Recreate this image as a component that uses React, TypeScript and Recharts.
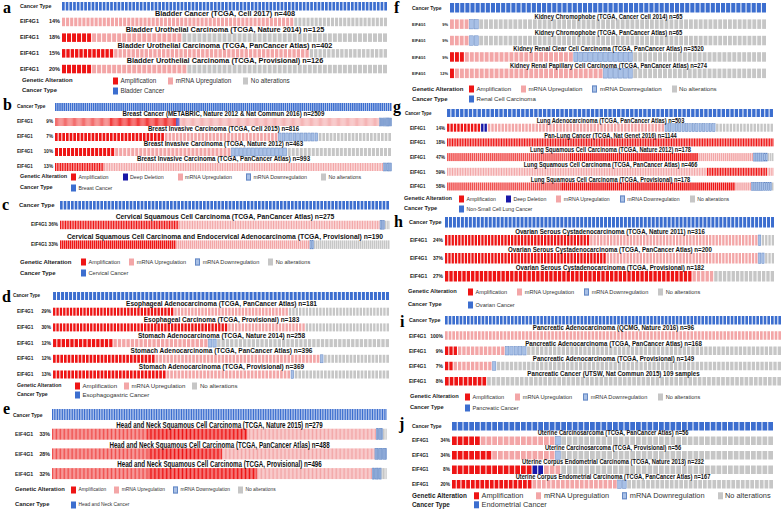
import React from 'react';
import { BarChart, Bar, XAxis, YAxis } from 'recharts';

// Oncoprint-like panels: every row is a stack of [alteration kind, number of sample columns]
type Seg = [string, number];

const A_TITLES = [
  'Bladder Cancer (TCGA, Cell 2017) n=408',
  'Bladder Urothelial Carcinoma (TCGA, Nature 2014) n=125',
  'Bladder Urothelial Carcinoma (TCGA, PanCancer Atlas) n=402',
  'Bladder Urothelial Carcinoma (TCGA, Provisional) n=126',
];
const A_PCTS = ['14%', '18%', '15%', '20%'];
const A_ROWS: Seg[][] = [
  [['up', 57], ['none', 23]],
  [['amp', 6], ['up', 18], ['none', 41]],
  [['amp', 12], ['up', 45], ['none', 18]],
  [['amp', 6], ['up', 19], ['none', 40]],
];

const B_TITLES = [
  'Breast Cancer (METABRIC, Nature 2012 & Nat Commun 2016) n=2509',
  'Breast Invasive Carcinoma (TCGA, Cell 2015) n=816',
  'Breast Invasive Carcinoma (TCGA, Nature 2012) n=463',
  'Breast Invasive Carcinoma (TCGA, PanCancer Atlas) n=993',
];
const B_PCTS = ['9%', '7%', '10%', '13%'];
const B_ROWS: Seg[][] = [
  [['ampMix', 49], ['amp', 59], ['del', 3], ['up', 178], ['down', 11]],
  [['amp', 30], ['up', 31], ['down', 11], ['none', 20]],
  [['amp', 15], ['up', 29], ['down', 14], ['none', 26]],
  [['amp', 29], ['up', 166], ['down', 5]],
];

const C_TITLES = [
  'Cervical Squamous Cell Carcinoma (TCGA, PanCancer Atlas) n=275',
  'Cervical Squamous Cell Carcinoma and Endocervical Adenocarcinoma (TCGA, Provisional) n=190',
];
const C_PCTS = ['36%', '33%'];
const C_ROWS: Seg[][] = [
  [['amp', 72], ['up', 122], ['down', 3], ['none', 3]],
  [['amp', 58], ['up', 67], ['down', 2], ['none', 38]],
];

const D_TITLES = [
  'Esophageal Adenocarcinoma (TCGA, PanCancer Atlas) n=181',
  'Esophageal Carcinoma (TCGA, Provisional) n=183',
  'Stomach Adenocarcinoma (TCGA, Nature 2014) n=258',
  'Stomach Adenocarcinoma (TCGA, PanCancer Atlas) n=396',
  'Stomach Adenocarcinoma (TCGA, Provisional) n=369',
];
const D_PCTS = ['29%', '30%', '12%', '12%', '13%'];
const D_ROWS: Seg[][] = [
  [['amp', 36], ['up', 34], ['none', 30]],
  [['amp', 52], ['up', 23], ['none', 25]],
  [['amp', 14], ['up', 22], ['down', 2], ['none', 40]],
  [['amp', 28], ['up', 45], ['down', 1], ['none', 18]],
  [['amp', 31], ['up', 34], ['down', 1], ['none', 26]],
];

const E_TITLES = [
  'Head and Neck Squamous Cell Carcinoma (TCGA, Nature 2015) n=279',
  'Head and Neck Squamous Cell Carcinoma (TCGA, PanCancer Atlas) n=488',
  'Head and Neck Squamous Cell Carcinoma (TCGA, Provisional) n=496',
];
const E_PCTS = ['33%', '28%', '32%'];
const E_ROWS: Seg[][] = [
  [['ampMix', 71], ['amp', 75], ['up', 96], ['down', 5], ['none', 3]],
  [['ampMix', 72], ['amp', 55], ['up', 114], ['down', 9]],
  [['ampMix', 72], ['amp', 81], ['up', 86], ['down', 7], ['none', 4]],
];

const F_TITLES = [
  'Kidney Chromophobe (TCGA, Cancer Cell 2014) n=65',
  'Kidney Chromophobe (TCGA, PanCancer Atlas) n=65',
  'Kidney Renal Clear Cell Carcinoma (TCGA, PanCancer Atlas) n=3520',
  'Kidney Renal Papillary Cell Carcinoma (TCGA, PanCancer Atlas) n=274',
];
const F_PCTS = ['9%', '9%', '9%', '12%'];
const F_ROWS: Seg[][] = [
  [['up', 4], ['down', 2], ['none', 59]],
  [['up', 4], ['down', 2], ['none', 59]],
  [['amp', 3], ['up', 22], ['down', 12], ['none', 27]],
  [['amp', 1], ['up', 30], ['down', 6], ['none', 27]],
];

const G_TITLES = [
  'Lung Adenocarcinoma (TCGA, PanCancer Atlas) n=503',
  'Pan-Lung Cancer (TCGA, Nat Genet 2016) n=1144',
  'Lung Squamous Cell Carcinoma (TCGA, Nature 2012) n=178',
  'Lung Squamous Cell Carcinoma (TCGA, PanCancer Atlas) n=466',
  'Lung Squamous Cell Carcinoma (TCGA, Provisional) n=178',
];
const G_PCTS = ['14%', '18%', '47%', '59%', '58%'];
const G_ROWS: Seg[][] = [
  [['amp', 10], ['del', 2], ['up', 52], ['down', 15], ['none', 17]],
  [['amp', 200]],
  [['ampMix', 60], ['amp', 63], ['up', 27], ['down', 7], ['none', 3]],
  [['up', 159], ['amp', 37], ['up', 4]],
  [['ampMix', 56], ['amp', 85], ['up', 8], ['down', 10], ['none', 1]],
];

const H_TITLES = [
  'Ovarian Serous Cystadenocarcinoma (TCGA, Nature 2011) n=316',
  'Ovarian Serous Cystadenocarcinoma (TCGA, PanCancer Atlas) n=200',
  'Ovarian Serous Cystadenocarcinoma (TCGA, Provisional) n=182',
];
const H_PCTS = ['24%', '37%', '27%'];
const H_ROWS: Seg[][] = [
  [['amp', 44], ['up', 51], ['down', 1], ['none', 4]],
  [['amp', 49], ['up', 46], ['down', 2], ['none', 3]],
  [['amp', 57], ['up', 5], ['none', 14]],
];

const I_TITLES = [
  'Pancreatic Adenocarcinoma (QCMG, Nature 2016) n=96',
  'Pancreatic Adenocarcinoma (TCGA, PanCancer Atlas) n=168',
  'Pancreatic Adenocarcinoma (TCGA, Provisional) n=149',
  'Pancreatic Cancer (UTSW, Nat Commun 2015) 109 samples',
];
const I_PCTS = ['100%', '9%', '7%', '8%'];
const I_ROWS: Seg[][] = [
  [['up', 92]],
  [['amp', 3], ['up', 11], ['down', 5], ['none', 59]],
  [['amp', 2], ['up', 9], ['down', 1], ['none', 66]],
  [['amp', 9], ['none', 63]],
];

const J_TITLES = [
  'Uterine Carcinosarcoma (TCGA, PanCancer Atlas) n=56',
  'Uterine Carcinosarcoma (TCGA, Provisional) n=56',
  'Uterine Corpus Endometrial Carcinoma (TCGA, Nature 2013) n=232',
  'Uterine Corpus Endometrial Carcinoma (TCGA, PanCancer Atlas) n=167',
];
const J_PCTS = ['34%', '34%', '8%', '20%'];
const J_ROWS: Seg[][] = [
  [['amp', 5], ['up', 13], ['down', 1], ['none', 37]],
  [['amp', 7], ['up', 11], ['down', 1], ['none', 37]],
  [['amp', 14], ['del', 2], ['up', 3], ['none', 37]],
  [['amp', 17], ['up', 18], ['down', 2], ['none', 31]],
];

// columns shown in the "Cancer Type" row of each panel
const CT_COUNTS = [88, 160, 90, 84, 200, 62, 75, 83, 92, 56];
const CANCERS = [
  'Bladder Cancer', 'Breast Cancer', 'Cervical Cancer', 'Esophagogastric Cancer', 'Head and Neck Cancer',
  'Renal Cell Carcinoma', 'Non-Small Cell Lung Cancer', 'Ovarian Cancer', 'Pancreatic Cancer', 'Endometrial Cancer',
];
const LEGENDS = [
  ['amp', 'up', 'none'],
  ['amp', 'del', 'up', 'down', 'none'],
  ['amp', 'up', 'down', 'none'],
  ['amp', 'up', 'none'],
  ['amp', 'up', 'down', 'none'],
  ['amp', 'up', 'down', 'none'],
  ['amp', 'del', 'up', 'down', 'none'],
  ['amp', 'up', 'down', 'none'],
  ['amp', 'up', 'down', 'none'],
  ['amp', 'up', 'down', 'none'],
];

const LABELS: Record<string, string> = {
  amp: 'Amplification',
  del: 'Deep Deletion',
  up: 'mRNA Upregulation',
  down: 'mRNA Downregulation',
  none: 'No alterations',
};

const FILL: Record<string, string> = {
  amp: '#ee1515',
  ampMix: '#f0504f',
  del: '#1818a8',
  up: '#f3a6a7',
  down: '#a8c0e6',
  none: '#c6c6c6',
  ct: '#3c6ecf',
};

const SANS = '"Liberation Sans", Arial, sans-serif';
const SEG_KEYS = ['s0', 's1', 's2', 's3', 's4', 's5'];

// layout of each panel (page pixels)
const LAYOUT = [
  { letter: 'a', lx: 3, ly: 13, colX: 0, ctX: 20, geneX: 20, plotL: 62, plotR: 388, ctY: 5.5, band: 15.7, bar: 8.5, tSize: 7.3, tSx: 1, lab: 5.5, ctSize: 5.3, legY: 81, legY2: 91, headX: 22, legX: 113, legSize: 6.3, headSize: 5.9, gap: 12 },
  { letter: 'b', lx: 3, ly: 110, colX: 0, ctX: 17, geneX: 17, plotL: 55, plotR: 392, ctY: 106, band: 15, bar: 8, tSize: 7, tSx: 0.88, lab: 4.6, ctSize: 4.8, legY: 177, legY2: 188, headX: 20, legX: 71, legSize: 5.3, headSize: 5.5, gap: 14 },
  { letter: 'c', lx: 2, ly: 210, colX: 0, ctX: 19, geneX: 31, plotL: 60, plotR: 390, ctY: 204.5, band: 19.7, bar: 8.5, tSize: 8, tSx: 0.85, lab: 4.7, ctSize: 6, legY: 262, legY2: 273, headX: 20, legX: 81, legSize: 5.6, headSize: 6, gap: 9 },
  { letter: 'd', lx: 2, ly: 302, colX: 0, ctX: 13, geneX: 17, plotL: 53, plotR: 390, ctY: 295.5, band: 15.7, bar: 8, tSize: 7, tSx: 0.93, lab: 4.8, ctSize: 4.6, legY: 386, legY2: 395, headX: 17, legX: 75, legSize: 6.1, headSize: 5.2, gap: 7 },
  { letter: 'e', lx: 3, ly: 414, colX: 0, ctX: 13, geneX: 15, plotL: 52, plotR: 387, ctY: 415, band: 19.7, bar: 11, tSize: 8.5, tSx: 0.73, lab: 5.3, ctSize: 5, legY: 490, legY2: 505, headX: 15, legX: 71, legSize: 4.9, headSize: 5.8, gap: 8 },
  { letter: 'f', lx: 394, ly: 13, colX: 392, ctX: 412, geneX: 412, plotL: 450, plotR: 767, ctY: 8, band: 16.4, bar: 9.5, tSize: 6.5, tSx: 0.9, lab: 4, ctSize: 5, legY: 89, legY2: 99, headX: 412, legX: 469, legSize: 6.1, headSize: 6, gap: 10 },
  { letter: 'g', lx: 393, ly: 112, colX: 392, ctX: 405, geneX: 410, plotL: 447, plotR: 774, ctY: 113.5, band: 14.7, bar: 8, tSize: 6.5, tSx: 0.87, lab: 4.5, ctSize: 4.5, legY: 199, legY2: 209, headX: 404, legX: 459, legSize: 5.2, headSize: 5.6, gap: 10 },
  { letter: 'h', lx: 394, ly: 227, colX: 392, ctX: 409, geneX: 410, plotL: 445, plotR: 775, ctY: 222, band: 18, bar: 10.5, tSize: 7, tSx: 0.88, lab: 5, ctSize: 5.5, legY: 292, legY2: 305, headX: 408, legX: 468, legSize: 5.6, headSize: 5.7, gap: 10 },
  { letter: 'i', lx: 400, ly: 327, colX: 392, ctX: 409, geneX: 409, plotL: 445, plotR: 782, ctY: 321, band: 15.25, bar: 8.5, tSize: 7.5, tSx: 0.82, lab: 5, ctSize: 5.3, legY: 397, legY2: 408, headX: 410, legX: 465, legSize: 5.6, headSize: 5.7, gap: 11 },
  { letter: 'j', lx: 399, ly: 429, colX: 392, ctX: 412, geneX: 412, plotL: 452, plotR: 774, ctY: 426.5, band: 14.5, bar: 8.5, tSize: 6.5, tSx: 0.88, lab: 4.8, ctSize: 5, legY: 496, legY2: 505, headX: 412, legX: 474, legSize: 7.4, headSize: 6.4, gap: 13 },
];

const PANEL_DATA = [
  { titles: A_TITLES, pcts: A_PCTS, rows: A_ROWS },
  { titles: B_TITLES, pcts: B_PCTS, rows: B_ROWS },
  { titles: C_TITLES, pcts: C_PCTS, rows: C_ROWS },
  { titles: D_TITLES, pcts: D_PCTS, rows: D_ROWS },
  { titles: E_TITLES, pcts: E_PCTS, rows: E_ROWS },
  { titles: F_TITLES, pcts: F_PCTS, rows: F_ROWS },
  { titles: G_TITLES, pcts: G_PCTS, rows: G_ROWS },
  { titles: H_TITLES, pcts: H_PCTS, rows: H_ROWS },
  { titles: I_TITLES, pcts: I_PCTS, rows: I_ROWS },
  { titles: J_TITLES, pcts: J_PCTS, rows: J_ROWS },
];

// draws one stacked segment as a run of sample columns
function Cells(props: any) {
  const { x, y, width, height, payload, seg } = props;
  const s: Seg | undefined = payload?.segs?.[seg];
  if (!s || !(width > 0)) return null;
  const [kind, n] = s;
  const cw = width / n;
  const gap = cw > 3 ? 1 : cw > 1.6 ? 0.5 : 0.3;
  const out = [];
  for (let k = 0; k < n; k++) {
    out.push(
      <rect
        key={k}
        x={x + k * cw}
        y={y}
        width={Math.max(cw - gap, 0.3)}
        height={height}
        fill={FILL[kind]}
        stroke={kind === 'down' ? '#6488c4' : 'none'}
        strokeWidth={kind === 'down' ? 0.5 : 0}
      />
    );
  }
  return <g>{out}</g>;
}

function Swatch({ kind }: { kind: string }) {
  return (
    <span
      style={{
        display: 'inline-block',
        width: 5,
        height: 7,
        boxSizing: 'border-box',
        background: FILL[kind],
        border: kind === 'down' ? '0.8px solid #6488c4' : 'none',
      }}
    />
  );
}

function Panel({ idx }: { idx: number }) {
  const L = LAYOUT[idx];
  const D = PANEL_DATA[idx];
  const data: any[] = [{ key: 'ct', segs: [['ct', CT_COUNTS[idx]]], s0: 100 }];
  D.rows.forEach((segs, i) => {
    const total = segs.reduce((a, s) => a + s[1], 0);
    const row: any = { key: 'r' + i, segs };
    segs.forEach((s, j) => {
      row['s' + j] = (s[1] / total) * 100;
    });
    data.push(row);
  });
  const height = L.band * data.length;
  const width = L.plotR - L.colX;
  const cx = (L.plotL + L.plotR) / 2 - L.colX;

  const Tick = (t: any) => {
    const v: string = t.payload?.value;
    const y = t.y;
    if (v === 'ct') {
      return (
        <text x={L.ctX - L.colX} y={y} dy="0.35em" fontSize={L.ctSize} fontWeight="bold" fontFamily={SANS} fill="#222">
          Cancer Type
        </text>
      );
    }
    const r = Number(String(v).slice(1));
    const ty = y - L.bar / 2 - 1.2;
    return (
      <g>
        <text x={L.geneX - L.colX} y={y} dy="0.35em" fontSize={L.lab} fontWeight="bold" fontFamily={SANS} fill="#222">
          EIF4G1
        </text>
        <text x={L.plotL - L.colX - 2} y={y} dy="0.35em" textAnchor="end" fontSize={L.lab} fontWeight="bold" fontFamily={SANS} fill="#222">
          {D.pcts[r]}
        </text>
        <text
          transform={`translate(${cx},${ty}) scale(${L.tSx},1)`}
          textAnchor="middle"
          fontSize={L.tSize}
          fontWeight="bold"
          fontFamily={SANS}
          fill="#111"
        >
          {D.titles[r]}
        </text>
      </g>
    );
  };

  const legendRow = (top: number, kinds: string[], texts: string[]) => (
    <div
      style={{
        position: 'absolute',
        left: L.legX,
        top,
        transform: 'translateY(-50%)',
        display: 'flex',
        alignItems: 'center',
        whiteSpace: 'nowrap',
        fontFamily: SANS,
        fontSize: L.legSize,
        lineHeight: 1,
        color: '#333',
      }}
    >
      {kinds.map((k, i) => (
        <span key={i} style={{ display: 'flex', alignItems: 'center', marginRight: L.gap }}>
          <Swatch kind={k} />
          <span style={{ marginLeft: 2.5 }}>{texts[i]}</span>
        </span>
      ))}
    </div>
  );

  const head = (top: number, text: string) => (
    <div
      style={{
        position: 'absolute',
        left: L.headX,
        top,
        transform: 'translateY(-50%)',
        whiteSpace: 'nowrap',
        fontFamily: SANS,
        fontWeight: 'bold',
        fontSize: L.headSize,
        lineHeight: 1,
        color: '#222',
      }}
    >
      {text}
    </div>
  );

  return (
    <>
      <div
        style={{
          position: 'absolute',
          left: L.lx,
          top: L.ly - 13,
          fontFamily: '"Liberation Serif", "Times New Roman", serif',
          fontWeight: 'bold',
          fontSize: 16,
          lineHeight: '16px',
        }}
      >
        {L.letter}
      </div>
      <div style={{ position: 'absolute', left: L.colX, top: L.ctY - L.band / 2 }}>
        <BarChart
          layout="vertical"
          width={width}
          height={height}
          data={data}
          margin={{ top: 0, right: 0, bottom: 0, left: 0 }}
          barSize={L.bar}
        >
          <XAxis type="number" domain={[0, 100]} hide allowDataOverflow />
          <YAxis
            type="category"
            dataKey="key"
            width={L.plotL - L.colX}
            axisLine={false}
            tickLine={false}
            interval={0}
            tick={Tick}
          />
          {SEG_KEYS.map((k, j) => (
            <Bar
              key={k}
              dataKey={k}
              stackId="a"
              isAnimationActive={false}
              shape={(sp: any) => <Cells {...sp} seg={j} />}
            />
          ))}
        </BarChart>
      </div>
      {head(L.legY, 'Genetic Alteration')}
      {legendRow(L.legY, LEGENDS[idx], LEGENDS[idx].map((k) => LABELS[k]))}
      {head(L.legY2, 'Cancer Type')}
      {legendRow(L.legY2, ['ct'], [CANCERS[idx]])}
    </>
  );
}

export default function App() {
  return (
    <div style={{ position: 'absolute', left: 0, top: 0, width: 784, height: 511, background: '#fff', overflow: 'hidden' }}>
      {LAYOUT.map((_, i) => (
        <Panel key={i} idx={i} />
      ))}
    </div>
  );
}
